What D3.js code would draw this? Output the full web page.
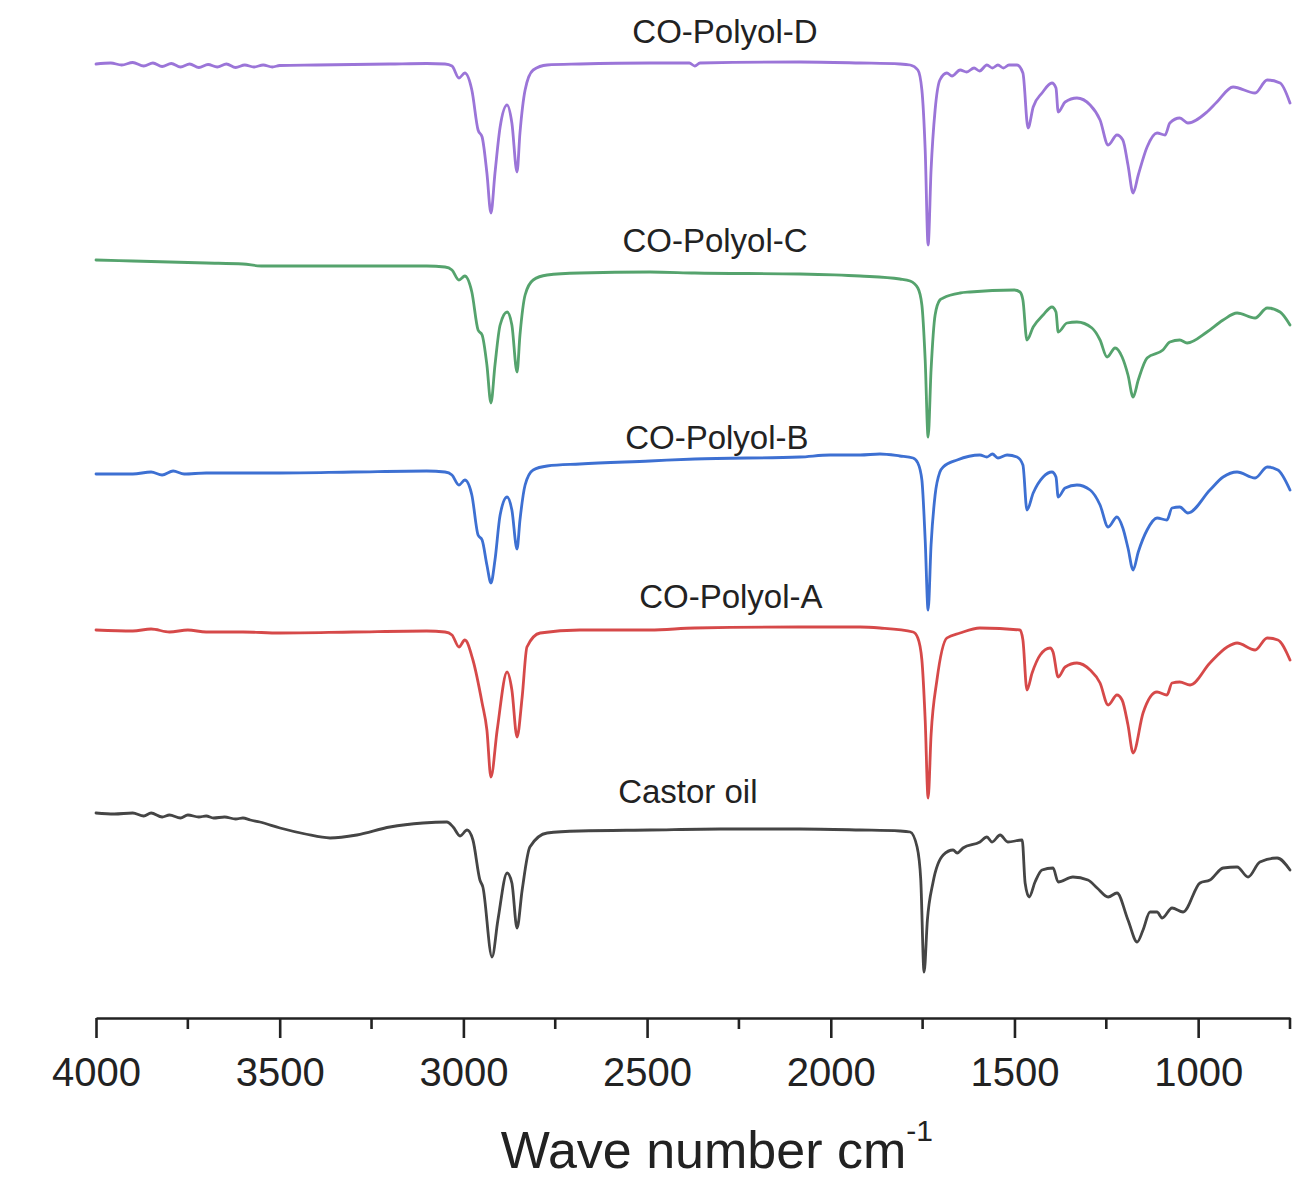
<!DOCTYPE html>
<html>
<head>
<meta charset="utf-8">
<script src="https://cdn.jsdelivr.net/npm/d3@7/dist/d3.min.js"></script>
<style>
  html, body { margin: 0; padding: 0; background: #fff; }
  svg { display: block; }
  text { font-family: "Liberation Sans", Arial, sans-serif; fill: #222; }
</style>
</head>
<body>
<svg id="chart" width="1292" height="1178"></svg>
<script>
// FTIR spectra, stacked with vertical offsets (arbitrary transmittance units).
// Each point: [wave number (cm-1), offset transmittance]
const castorOil = [
  [4000,20.5],[3950,20.4],[3900,20.5],[3870,20.2],[3850,20.5],[3820,20.1],[3800,20.3],[3770,20.0],
  [3750,20.3],[3720,20.1],[3700,20.2],[3680,20.0],[3650,20.1],[3620,19.9],[3600,20.0],[3580,19.8],
  [3554,19.6],[3499,19.0],[3430,18.4],[3363,18.0],[3290,18.3],[3200,19.1],[3110,19.5],[3045,19.6],
  [3028,19.1],[3009,18.2],[2990,18.8],[2974,17.8],[2955,13.8],[2947,13.1],[2922,6.1],[2906,9.8],
  [2881,14.5],[2868,13.5],[2854,9.0],[2840,12.8],[2819,17.1],[2772,18.5],[2683,18.7],[2492,18.8],
  [2300,18.9],[2084,18.9],[1920,18.8],[1812,18.7],[1784,18.6],[1765,17.1],[1755,13.8],[1746,4.6],
  [1737,9.8],[1722,13.5],[1694,16.3],[1667,16.8],[1656,16.5],[1640,17.0],[1594,17.6],[1575,18.1],
  [1561,17.6],[1539,18.3],[1518,17.6],[1479,17.8],[1471,13.5],[1460,12.1],[1444,13.6],[1425,14.8],
  [1395,15.0],[1381,13.6],[1341,14.1],[1300,13.8],[1275,13.0],[1245,12.1],[1221,12.5],[1191,9.8],
  [1166,7.6],[1150,8.8],[1131,10.6],[1112,10.6],[1098,10.0],[1071,11.0],[1041,10.6],[995,13.5],
  [968,13.8],[932,15.0],[894,15.1],[864,14.1],[832,15.6],[785,16.0],[750,14.8]
];

const polyolA = [
  [4000,38.8],[3900,38.7],[3850,38.9],[3800,38.6],[3750,38.8],[3700,38.6],[3600,38.6],[3500,38.5],
  [3300,38.6],[3100,38.7],[3050,38.6],[3031,38.3],[3012,37.1],[2996,37.8],[2974,35.8],[2949,31.5],
  [2936,28.8],[2925,24.1],[2908,28.8],[2881,34.6],[2868,32.8],[2854,28.1],[2840,32.1],[2827,37.1],
  [2791,38.5],[2683,38.8],[2492,38.8],[2370,39.0],[2084,39.1],[1920,39.1],[1866,39.0],[1776,38.6],
  [1763,38.0],[1752,35.8],[1743,29.8],[1735,22.0],[1727,28.3],[1711,33.8],[1684,38.0],[1648,38.5],
  [1594,39.0],[1485,38.8],[1477,37.8],[1466,32.8],[1452,34.5],[1430,36.3],[1403,37.0],[1395,36.6],
  [1381,34.1],[1362,35.1],[1330,35.5],[1294,34.8],[1267,33.5],[1245,31.3],[1221,32.3],[1207,31.8],
  [1191,29.3],[1177,26.5],[1150,30.5],[1112,32.6],[1085,32.3],[1071,33.5],[1050,33.6],[1022,33.3],
  [968,35.5],[921,37.1],[894,37.5],[845,36.8],[812,38.0],[783,37.8],[750,35.8]
];

const polyolB = [
  [4000,54.4],[3900,54.4],[3850,54.6],[3820,54.3],[3790,54.7],[3760,54.4],[3700,54.5],[3600,54.5],
  [3500,54.5],[3300,54.6],[3100,54.7],[3050,54.6],[3031,54.3],[3012,53.3],[2996,53.8],[2977,52.3],
  [2960,48.3],[2949,47.8],[2936,45.3],[2925,43.5],[2914,45.8],[2900,50.3],[2881,52.1],[2868,50.8],
  [2854,46.9],[2846,49.8],[2832,53.3],[2810,54.8],[2772,55.2],[2683,55.4],[2492,55.7],[2370,55.9],
  [2084,56.1],[2002,56.3],[1920,56.3],[1866,56.4],[1812,56.2],[1776,56.0],[1763,55.5],[1752,53.8],
  [1743,47.8],[1735,40.8],[1727,47.3],[1716,52.3],[1703,54.6],[1694,55.1],[1656,55.8],[1594,56.3],
  [1575,56.1],[1560,56.4],[1545,56.0],[1520,56.3],[1493,56.1],[1477,55.3],[1466,50.8],[1449,52.5],
  [1422,54.1],[1398,54.6],[1387,54.1],[1381,52.1],[1362,53.0],[1330,53.3],[1294,52.8],[1267,51.3],
  [1245,49.1],[1221,50.1],[1205,49.0],[1191,47.0],[1177,44.8],[1163,46.6],[1139,48.8],[1112,50.0],
  [1085,49.8],[1071,51.0],[1050,51.1],[1028,50.5],[968,52.8],[932,54.1],[894,54.6],[845,54.0],
  [812,55.1],[783,54.8],[750,52.8]
];

const polyolC = [
  [4000,75.8],[3900,75.7],[3800,75.6],[3700,75.5],[3600,75.4],[3550,75.2],[3500,75.2],[3300,75.2],
  [3100,75.2],[3050,75.1],[3031,74.8],[3012,73.8],[2996,74.2],[2977,72.6],[2960,68.8],[2949,68.3],
  [2936,65.3],[2925,61.5],[2914,65.3],[2900,69.3],[2881,70.6],[2868,69.3],[2854,64.6],[2846,68.3],
  [2832,72.3],[2810,73.8],[2772,74.3],[2683,74.5],[2492,74.6],[2370,74.5],[2084,74.4],[1920,74.2],
  [1812,73.9],[1784,73.7],[1763,73.0],[1752,71.3],[1743,65.8],[1735,58.1],[1727,64.8],[1716,70.3],
  [1703,71.8],[1694,72.0],[1648,72.5],[1621,72.6],[1500,72.8],[1485,72.6],[1477,71.8],[1466,67.8],
  [1449,69.1],[1422,70.3],[1398,71.1],[1387,70.6],[1381,68.6],[1357,69.5],[1330,69.6],[1289,69.0],
  [1267,67.8],[1248,66.1],[1226,67.0],[1207,66.1],[1191,64.3],[1177,62.1],[1163,63.8],[1139,66.0],
  [1096,66.8],[1077,67.6],[1050,67.8],[1030,67.5],[976,68.6],[932,69.8],[894,70.5],[845,70.0],
  [812,71.0],[777,70.6],[750,69.3]
];

const polyolD = [
  [4000,95.4],[3960,95.5],[3930,95.3],[3900,95.55],[3870,95.2],[3845,95.5],[3820,95.15],[3795,95.45],
  [3770,95.1],[3745,95.4],[3720,95.05],[3695,95.35],[3670,95.1],[3645,95.4],[3620,95.05],[3595,95.3],
  [3570,95.1],[3545,95.3],[3520,95.1],[3500,95.25],[3400,95.3],[3300,95.35],[3200,95.4],[3100,95.45],
  [3050,95.4],[3031,95.2],[3012,94.0],[2996,94.5],[2977,92.8],[2960,88.8],[2949,88.1],[2936,84.5],
  [2925,80.5],[2914,84.5],[2900,89.1],[2881,91.3],[2868,89.5],[2854,84.6],[2846,88.5],[2832,92.8],
  [2810,94.8],[2772,95.3],[2683,95.4],[2492,95.5],[2385,95.5],[2370,95.2],[2356,95.5],[2084,95.6],
  [1920,95.5],[1812,95.4],[1784,95.3],[1763,94.8],[1752,92.8],[1743,86.8],[1735,77.3],[1727,84.8],
  [1716,90.8],[1703,93.8],[1684,94.5],[1670,94.2],[1648,94.8],[1630,94.6],[1610,95.0],[1595,94.7],
  [1575,95.3],[1560,95.0],[1545,95.3],[1530,95.0],[1515,95.3],[1493,95.3],[1477,94.5],[1463,89.0],
  [1449,91.1],[1425,92.5],[1398,93.5],[1387,93.0],[1381,90.6],[1362,91.6],[1330,92.0],[1294,91.3],
  [1267,89.8],[1245,87.3],[1221,88.3],[1205,87.8],[1191,85.3],[1177,82.5],[1163,84.3],[1139,87.1],
  [1112,88.5],[1090,88.3],[1077,89.5],[1050,90.0],[1028,89.5],[976,90.6],[949,91.6],[905,93.1],
  [845,92.5],[812,93.8],[777,93.5],[750,91.5]
];

const seriesNames  = ["Castor oil", "CO-Polyol-A", "CO-Polyol-B", "CO-Polyol-C", "CO-Polyol-D"];
const seriesColors = ["#444444", "#d64a4a", "#3d6fd2", "#55a36d", "#9b74d8"];
// label anchor: [wave number at label centre, value at label baseline]
const labelAnchors = [[2389,21.5],[2272,41.0],[2310,56.9],[2315,76.6],[2288,97.5]];

const majorTicks = [4000, 3500, 3000, 2500, 2000, 1500, 1000];
const minorTicks = [3750, 3250, 2750, 2250, 1750, 1250, 750];
const axisTitle = "Wave number cm";
const axisTitleSup = "-1";

const spectra = [castorOil, polyolA, polyolB, polyolC, polyolD];

const svg = d3.select("#chart");
const plot = { left: 96, right: 1290, top: 18, bottom: 1018 };

const x = d3.scaleLinear().domain([4000, 750]).range([plot.left, plot.right]);
const y = d3.scaleLinear().domain([0, 100]).range([plot.bottom, plot.top]);

const line = d3.line()
  .x(d => x(d[0]))
  .y(d => y(d[1]))
  .curve(d3.curveMonotoneX);

const defs = svg.append("defs");
defs.append("filter").attr("id", "soft")
  .append("feGaussianBlur").attr("stdDeviation", 0.45);

svg.append("g").attr("filter", "url(#soft)")
  .selectAll("path")
  .data(spectra)
  .join("path")
  .attr("d", line)
  .attr("fill", "none")
  .attr("stroke", (d, i) => seriesColors[i])
  .attr("stroke-width", 2.8)
  .attr("stroke-linejoin", "round")
  .attr("stroke-linecap", "round");

svg.append("g")
  .selectAll("text")
  .data(seriesNames)
  .join("text")
  .attr("x", (d, i) => x(labelAnchors[i][0]))
  .attr("y", (d, i) => y(labelAnchors[i][1]))
  .attr("text-anchor", "middle")
  .attr("font-size", 33)
  .attr("fill", "#262626")
  .text(d => d);

// bottom axis: major ticks labelled, minor ticks between
const axisG = svg.append("g").attr("transform", `translate(0,${plot.bottom})`);
axisG.call(
  d3.axisBottom(x).tickValues(majorTicks).tickSize(20).tickSizeOuter(0).tickFormat(d3.format("d"))
);
axisG.select(".domain").attr("stroke", "#222").attr("stroke-width", 2.6);
axisG.selectAll(".tick line").attr("stroke", "#222").attr("stroke-width", 2.6);
axisG.selectAll(".tick text")
  .attr("font-family", "\"Liberation Sans\", Arial, sans-serif")
  .attr("font-size", 40)
  .attr("fill", "#1e1e1e")
  .attr("y", 68)
  .attr("dy", 0);

axisG.append("g")
  .selectAll("line")
  .data(minorTicks)
  .join("line")
  .attr("x1", d => x(d)).attr("x2", d => x(d))
  .attr("y1", 0).attr("y2", 11)
  .attr("stroke", "#222").attr("stroke-width", 2.6);

const title = svg.append("text")
  .attr("x", x(2310))
  .attr("y", 1168)
  .attr("text-anchor", "middle")
  .attr("font-size", 52)
  .attr("fill", "#1e1e1e");
title.append("tspan").text(axisTitle);
title.append("tspan").attr("font-size", 30).attr("dy", -27).text(axisTitleSup);
</script>
</body>
</html>
